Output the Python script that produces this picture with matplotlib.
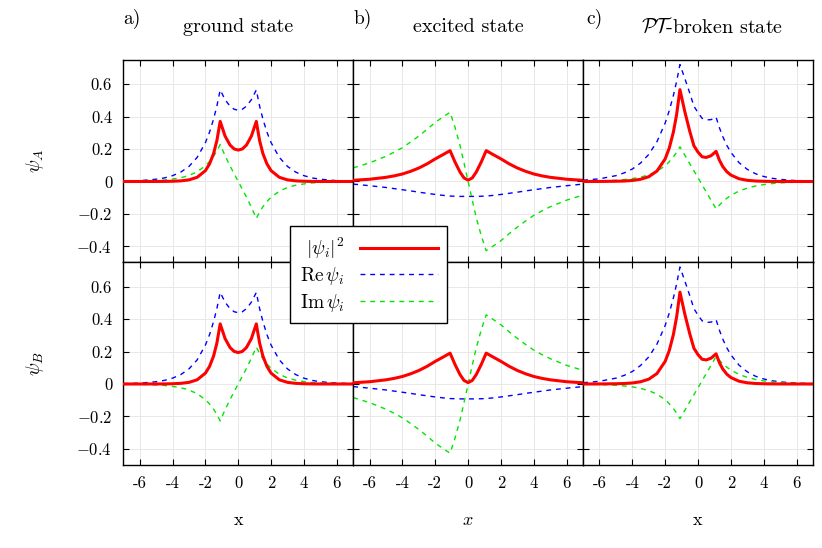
import matplotlib.pyplot as plt

plt.rcParams.update({
    'font.family': 'serif',
    'font.serif': ['cmr10'],
    'mathtext.fontset': 'cm',
    'axes.unicode_minus': False,
    'axes.formatter.use_mathtext': True,
})

# sample positions along x (shared by every curve)
x = [-7, -6, -5, -4.5, -4, -3.5, -3, -2.5, -2, -1.75, -1.5, -1.3, -1.1, -0.8, -0.5, -0.25, 0,
     0.25, 0.5, 0.8, 1.1, 1.3, 1.5, 1.75, 2, 2.5, 3, 3.5, 4, 4.5, 5, 6, 7]

# a) ground state
re_ground = [0.002, 0.005, 0.014, 0.022, 0.036, 0.058, 0.093, 0.149, 0.240, 0.304, 0.386, 0.466, 0.565,
             0.505, 0.465, 0.446, 0.440, 0.446, 0.465, 0.505,
             0.565, 0.466, 0.386, 0.304, 0.240, 0.149, 0.093, 0.058, 0.036, 0.022, 0.014, 0.005, 0.002]
im_ground_A = [0.001, 0.002, 0.006, 0.009, 0.015, 0.023, 0.037, 0.060, 0.097, 0.123, 0.156, 0.189, 0.228,
               0.159, 0.096, 0.048, 0.0, -0.048, -0.096, -0.159,
               -0.228, -0.189, -0.156, -0.123, -0.097, -0.060, -0.037, -0.023, -0.015, -0.009, -0.006, -0.002, -0.001]
im_ground_B = [-0.001, -0.002, -0.006, -0.009, -0.015, -0.023, -0.037, -0.060, -0.097, -0.123, -0.156, -0.189, -0.228,
               -0.159, -0.096, -0.048, 0.0, 0.048, 0.096, 0.159,
               0.228, 0.189, 0.156, 0.123, 0.097, 0.060, 0.037, 0.023, 0.015, 0.009, 0.006, 0.002, 0.001]
dens_ground = [0.0, 0.0, 0.0002, 0.0005, 0.0015, 0.0039, 0.010, 0.026, 0.067, 0.108, 0.173, 0.253, 0.371,
               0.280, 0.225, 0.201, 0.194, 0.201, 0.225, 0.280,
               0.371, 0.253, 0.173, 0.108, 0.067, 0.026, 0.010, 0.0039, 0.0015, 0.0005, 0.0002, 0.0, 0.0]

# b) excited state
re_excited = [-0.016, -0.026, -0.037, -0.044, -0.051, -0.058, -0.066, -0.073, -0.080, -0.083, -0.086, -0.088, -0.090,
              -0.091, -0.092, -0.092, -0.092, -0.092, -0.092, -0.091,
              -0.090, -0.088, -0.086, -0.083, -0.080, -0.073, -0.066, -0.058, -0.051, -0.044, -0.037, -0.026, -0.016]
im_excited_A = [0.084, 0.115, 0.156, 0.181, 0.209, 0.244, 0.281, 0.322, 0.365, 0.383, 0.400, 0.414, 0.427,
                0.335, 0.225, 0.115, 0.0, -0.115, -0.225, -0.335,
                -0.427, -0.414, -0.400, -0.383, -0.365, -0.322, -0.281, -0.244, -0.209, -0.181, -0.156, -0.115, -0.084]
im_excited_B = [-0.084, -0.115, -0.156, -0.181, -0.209, -0.244, -0.281, -0.322, -0.365, -0.383, -0.400, -0.414, -0.427,
                -0.335, -0.225, -0.115, 0.0, 0.115, 0.225, 0.335,
                0.427, 0.414, 0.400, 0.383, 0.365, 0.322, 0.281, 0.244, 0.209, 0.181, 0.156, 0.115, 0.084]
dens_excited = [0.0073, 0.0139, 0.0257, 0.0347, 0.0463, 0.0629, 0.0833, 0.1090, 0.1396, 0.1536, 0.1674, 0.1791, 0.1904,
                0.1205, 0.0591, 0.0217, 0.0085, 0.0217, 0.0591, 0.1205,
                0.1904, 0.1791, 0.1674, 0.1536, 0.1396, 0.1090, 0.0833, 0.0629, 0.0463, 0.0347, 0.0257, 0.0139, 0.0073]

# c) PT-broken state
re_broken = [0.0077, 0.0166, 0.036, 0.053, 0.077, 0.114, 0.167, 0.246, 0.361, 0.438, 0.531, 0.619, 0.722,
             0.635, 0.545, 0.465, 0.425, 0.390, 0.380, 0.382,
             0.397, 0.333, 0.279, 0.224, 0.180, 0.116, 0.075, 0.048, 0.031, 0.020, 0.013, 0.005, 0.002]
im_broken_A = [0.0015, 0.0035, 0.008, 0.012, 0.018, 0.027, 0.041, 0.063, 0.097, 0.122, 0.152, 0.180, 0.214,
               0.162, 0.109, 0.066, 0.023, -0.021, -0.064, -0.117,
               -0.169, -0.146, -0.125, -0.104, -0.086, -0.059, -0.041, -0.028, -0.019, -0.013, -0.009, -0.004, -0.002]
im_broken_B = [-0.0015, -0.0035, -0.008, -0.012, -0.018, -0.027, -0.041, -0.063, -0.097, -0.122, -0.152, -0.180, -0.214,
               -0.162, -0.109, -0.066, -0.023, 0.021, 0.064, 0.117,
               0.169, 0.146, 0.125, 0.104, 0.086, 0.059, 0.041, 0.028, 0.019, 0.013, 0.009, 0.004, 0.002]
dens_broken = [0.0001, 0.0003, 0.0014, 0.0029, 0.0062, 0.0137, 0.0296, 0.0645, 0.1397, 0.2067, 0.3051, 0.4156, 0.567,
               0.4294, 0.3089, 0.2206, 0.1811, 0.1525, 0.1485, 0.1596,
               0.1862, 0.1322, 0.0934, 0.061, 0.0398, 0.0169, 0.0073, 0.0031, 0.0013, 0.0006, 0.0002, 0.0, 0.0]

titles = ['ground state', 'excited state', r'$\mathcal{P}\mathcal{T}$-broken state']
letters = ['a)', 'b)', 'c)']
xlabels = ['x', '$x$', 'x']
row_labels = [r'$\psi_A$', r'$\psi_B$']

panels = [
    [(re_ground, im_ground_A, dens_ground), (re_excited, im_excited_A, dens_excited),
     (re_broken, im_broken_A, dens_broken)],
    [(re_ground, im_ground_B, dens_ground), (re_excited, im_excited_B, dens_excited),
     (re_broken, im_broken_B, dens_broken)],
]

xticks = [-6, -4, -2, 0, 2, 4, 6]
yticks = [-0.4, -0.2, 0, 0.2, 0.4, 0.6]
yticklabels = ['$-0.4$', '$-0.2$', '0', '0.2', '0.4', '0.6']

fig, axes = plt.subplots(2, 3, figsize=(8.22, 5.48), dpi=100)
fig.subplots_adjust(left=0.150, right=0.989, top=0.8905, bottom=0.1515, wspace=0, hspace=0)

red = '#ff0000'
blue = '#0000ff'
green = '#00e600'

for r in range(2):
    for c in range(3):
        ax = axes[r][c]
        re, im, dens = panels[r][c]
        l_re, = ax.plot(x, re, color=blue, lw=1.0, dashes=(3.5, 3.5), zorder=2)
        l_im, = ax.plot(x, im, color=green, lw=1.0, dashes=(3.5, 3.5), zorder=2)
        l_d, = ax.plot(x, dens, color=red, lw=2.2, zorder=3)
        ax.set_xlim(-7, 7)
        ax.set_ylim(-0.5, 0.75)
        ax.set_xticks(xticks)
        ax.set_yticks(yticks)
        ax.grid(True, color='#e8e8e8', lw=0.7)
        ax.set_axisbelow(True)
        ax.tick_params(direction='in', length=4.5, width=0.8, top=True, right=True,
                       labelsize=12, pad=8)
        for s in ax.spines.values():
            s.set_linewidth(1.0)
        if c == 0:
            ax.set_yticklabels(yticklabels)
            ax.set_ylabel(row_labels[r], fontsize=14, labelpad=22)
        else:
            ax.set_yticklabels([])
        if r == 1:
            ax.set_xticklabels([str(t) for t in xticks])
            ax.set_xlabel(xlabels[c], fontsize=13, labelpad=15)
        else:
            ax.set_xticklabels([])

title_x = [238, 468, 712]
letter_x = [123, 354, 586]
for c in range(3):
    fig.text(title_x[c] / 822, 1 - 27 / 548, titles[c], ha='center', va='center', fontsize=14.5)
    fig.text(letter_x[c] / 822, 1 - 19 / 548, letters[c], ha='left', va='center', fontsize=14)

leg = fig.legend([l_d, l_re, l_im],
                 [r'$|\psi_i|^2$', r'$\mathrm{Re}\,\psi_i$', r'$\mathrm{Im}\,\psi_i$'],
                 loc='upper left', bbox_to_anchor=(290 / 822, 1 - 226 / 548), borderaxespad=0,
                 markerfirst=False, fontsize=14, handlelength=4.0, fancybox=False,
                 framealpha=1, edgecolor='black', borderpad=0.5, labelspacing=0.22)
leg.get_frame().set_linewidth(1.0)

fig.savefig('out.png', dpi=100)
